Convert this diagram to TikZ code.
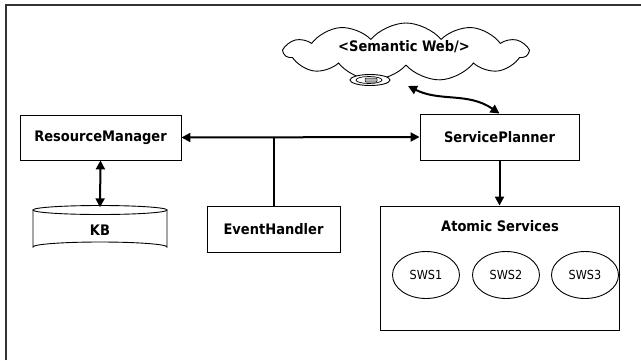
\documentclass[tikz,border=0pt]{standalone}
\usepackage{fontspec}
\setmainfont{DejaVu Sans Condensed}
\usetikzlibrary{arrows.meta,shapes.geometric,shapes.symbols}
\begin{document}
\begin{tikzpicture}[x=1pt,y=-1pt,
  box/.style={draw, line width=0.9pt, rectangle, inner sep=0pt},
  lbl/.style={font=\fontsize{14.5}{16}\selectfont\bfseries},
  sws/.style={draw, line width=0.9pt, ellipse, inner sep=0pt, minimum width=67pt, minimum height=47pt, font=\fontsize{12.5}{14}\selectfont},
  conn/.style={line width=2pt, -{Triangle[length=9pt,width=9pt]}},
  dconn/.style={line width=2pt, {Triangle[length=9pt,width=9pt]}-{Triangle[length=9pt,width=9pt]}}
]
\useasboundingbox (0,0) rectangle (641,360);
% frame
\draw[line width=1.4pt, black!80] (6,360) -- (6,5) -- (641,5);

% cloud
\node[cloud, draw, line width=0.9pt, cloud puffs=11, cloud puff arc=100, aspect=4.2,
      minimum width=243pt, minimum height=58pt, inner sep=0pt] (cloud) at (406,52) {};
\node[lbl] (sw) at (404,47) {<Semantic Web/>};
% small ellipse under cloud
\node[draw, fill=white, line width=0.9pt, ellipse, minimum width=40pt, minimum height=11pt, inner sep=0pt] (port) at (370,80) {};
\node[draw, line width=0.7pt, ellipse, minimum width=26pt, minimum height=7pt, inner sep=0pt] (porti) at (369,80) {};
\node[draw, fill=gray!60, line width=0.5pt, rounded corners=1pt, minimum width=12pt, minimum height=4pt, inner sep=0pt] (portr) at (371,80) {};

% boxes
\node[box, lbl, minimum width=161pt, minimum height=45pt] (rm) at (100.5,137.5) {ResourceManager};
\node[box, lbl, minimum width=159pt, minimum height=46pt] (sp) at (499.5,137) {ServicePlanner};
\node[box, lbl, minimum width=133pt, minimum height=46pt] (eh) at (273.5,229) {EventHandler};
\node[box, minimum width=239pt, minimum height=124pt] (as) at (499.5,268) {};
\node[lbl] (ast) at (500,226) {Atomic Services};
\node[sws] (s1) at (426,275) {SWS1};
\node[sws] (s2) at (506,275) {SWS2};
\node[sws] (s3) at (585,275) {SWS3};

% KB cylinder
\node[lbl, minimum width=134pt, minimum height=45pt, inner sep=0pt] (kb) at (100,230) {KB};
\draw[line width=0.9pt] (100,210) ellipse [x radius=67pt, y radius=4.5pt];
\draw[line width=0.9pt] (33,210) -- (33,247) arc[start angle=180, end angle=0, x radius=67pt, y radius=5pt] -- (167,210);

% connectors
\draw[dconn] (rm.east) -- (sp.west);
\coordinate (j) at (eh.north |- rm.east);
\draw[line width=2pt] (eh.north) -- (j);
\draw[dconn] (rm.south) -- (kb.north);
\draw[conn] (sp.south) -- (as.north);
\draw[dconn] (408,86) .. controls (440,102) and (468,92) .. (sp.north);
\end{tikzpicture}
\end{document}
